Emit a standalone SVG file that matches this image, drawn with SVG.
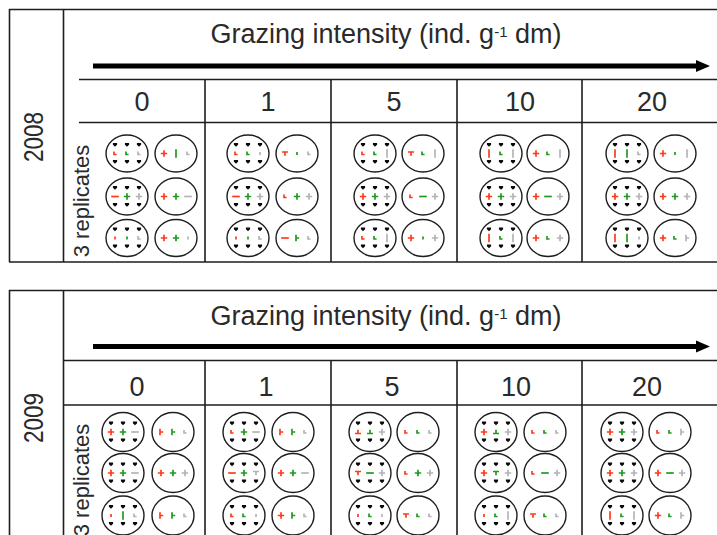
<svg xmlns="http://www.w3.org/2000/svg" xmlns:xlink="http://www.w3.org/1999/xlink" width="717" height="535" viewBox="0 0 717 535">
<style>
.ln{stroke:#1e1e1e;stroke-width:1.6;fill:none}
.tx{font-family:"Liberation Sans",Arial,sans-serif;fill:#2a2a2a}
.mk{fill:none;stroke-width:1.7}
.r{stroke:#ff3a1a}
.g{stroke:#1f9a1f}
.y{stroke:#b4b4b4}
.ring{fill:#fff;stroke:#1e1e1e;stroke-width:1.4}
.dot{fill:#0a0a0a}
</style>
<defs>
<path id="d" d="M-2.1,-1.9h4.2v1.6l-2.1,2.1l-2.1,-2.1z"/>
<g id="gA"><ellipse class="ring" rx="21" ry="18.5"/><g class="dot"><use href="#d" x="-12" y="-8.5"/><use href="#d" y="-8.5"/><use href="#d" x="12" y="-8.5"/><use href="#d" x="-12" y="8.5"/><use href="#d" y="8.5"/><use href="#d" x="12" y="8.5"/></g></g>
<g id="gB"><ellipse class="ring" rx="21" ry="19.5"/><g class="dot"><use href="#d" x="-12" y="-8.5"/><use href="#d" y="-8.5"/><use href="#d" x="12" y="-8.5"/><use href="#d" x="-12" y="8.5"/><use href="#d" y="8.5"/><use href="#d" x="12" y="8.5"/></g></g>
<ellipse id="oA" class="ring" rx="21" ry="18.5"/>
<ellipse id="oB" class="ring" rx="21" ry="19.5"/>
<path id="P" class="mk" d="M-3.2,0H3.2M0,-3.2V3.2"/>
<path id="M" class="mk" d="M-3.8,0H3.8"/>
<path id="V" class="mk" d="M0,-4.2V4.2"/>
<path id="K" class="mk" d="M-1,-2V1H1.6"/>
<path id="S" class="mk" d="M0,-1.4V1.4"/>
<path id="D" class="mk" d="M-3,-1.5H3M0,-1.5V2.2"/>
<path id="U" class="mk" d="M-3,1.5H3M0,1.5V-2.2"/>
<path id="R" class="mk" d="M-1,-3.2V3.2M-1,0H2.2"/>
</defs>
<rect width="717" height="535" fill="#fff"/>

<g id="panel-2008">
<g id="grid-2008" class="ln">
<path d="M9,9.5H717M9.5,9V262M63.5,9V262M9,262H717M79,79.5H717M79,122.5H717M205,79.5V262M331,79.5V262M457,79.5V262M582,79.5V262"/>
</g>
<g id="axis-2008">
<line x1="93" y1="66" x2="698" y2="66" stroke="#000" stroke-width="5"/>
<polygon points="696,60 710,66 696,72" fill="#000"/>
</g>
<text class="tx" x="386" y="43" font-size="27" text-anchor="middle">Grazing intensity (ind. g<tspan font-size="15" dy="-6">-1</tspan><tspan dy="6"> dm)</tspan></text>
<text class="tx" transform="translate(43,137) rotate(-90)" font-size="28" text-anchor="middle" textLength="50" lengthAdjust="spacingAndGlyphs">2008</text>
<text class="tx" transform="translate(89,201) rotate(-90)" font-size="22" text-anchor="middle">3 replicates</text>
<g class="tx" font-size="27" text-anchor="middle">
<text x="142" y="111">0</text><text x="268" y="111">1</text><text x="394" y="111">5</text><text x="520" y="111">10</text><text x="652" y="111">20</text>
</g>
<g id="plots-2008">
<!-- col 0 -->
<g transform="translate(127,153.5)"><use href="#gA"/><use href="#K" x="-12" class="r"/><use href="#K" class="g"/><use href="#K" x="12" class="y"/></g>
<g transform="translate(176,153.5)"><use href="#oA"/><use href="#P" x="-12" class="r"/><use href="#V" class="g"/><use href="#K" x="12" class="y"/></g>
<g transform="translate(127,196.5)"><use href="#gA"/><use href="#M" x="-12" class="r"/><use href="#P" class="g"/><use href="#P" x="12" class="y"/></g>
<g transform="translate(176,196.5)"><use href="#oA"/><use href="#P" x="-12" class="r"/><use href="#P" class="g"/><use href="#M" x="12" class="y"/></g>
<g transform="translate(127,238)"><use href="#gA"/><use href="#S" x="-12" class="r"/><use href="#S" class="g"/><use href="#K" x="12" class="y"/></g>
<g transform="translate(176,238)"><use href="#oA"/><use href="#P" x="-12" class="r"/><use href="#P" class="g"/><use href="#S" x="12" class="y"/></g>
<!-- col 1 -->
<g transform="translate(248,153.5)"><use href="#gA"/><use href="#K" x="-12" class="r"/><use href="#K" class="g"/><use href="#S" x="12" class="y"/></g>
<g transform="translate(297,153.5)"><use href="#oA"/><use href="#D" x="-12" class="r"/><use href="#S" class="g"/><use href="#K" x="12" class="y"/></g>
<g transform="translate(248,196.5)"><use href="#gA"/><use href="#M" x="-12" class="r"/><use href="#P" class="g"/><use href="#P" x="12" class="y"/></g>
<g transform="translate(297,196.5)"><use href="#oA"/><use href="#K" x="-12" class="r"/><use href="#P" class="g"/><use href="#P" x="12" class="y"/></g>
<g transform="translate(248,238)"><use href="#gA"/><use href="#S" x="-12" class="r"/><use href="#S" class="g"/><use href="#K" x="12" class="y"/></g>
<g transform="translate(297,238)"><use href="#oA"/><use href="#M" x="-12" class="r"/><use href="#R" class="g"/><use href="#K" x="12" class="y"/></g>
<!-- col 2 -->
<g transform="translate(375,153.5)"><use href="#gA"/><use href="#K" x="-12" class="r"/><use href="#K" class="g"/><use href="#V" x="12" class="y"/></g>
<g transform="translate(423,153.5)"><use href="#oA"/><use href="#D" x="-12" class="r"/><use href="#K" class="g"/><use href="#V" x="12" class="y"/></g>
<g transform="translate(375,196.5)"><use href="#gA"/><use href="#P" x="-12" class="r"/><use href="#P" class="g"/><use href="#P" x="12" class="y"/></g>
<g transform="translate(423,196.5)"><use href="#oA"/><use href="#K" x="-12" class="r"/><use href="#M" class="g"/><use href="#P" x="12" class="y"/></g>
<g transform="translate(375,238)"><use href="#gA"/><use href="#K" x="-12" class="r"/><use href="#K" class="g"/><use href="#V" x="12" class="y"/></g>
<g transform="translate(423,238)"><use href="#oA"/><use href="#P" x="-12" class="r"/><use href="#S" class="g"/><use href="#P" x="12" class="y"/></g>
<!-- col 3 -->
<g transform="translate(501,153.5)"><use href="#gA"/><use href="#V" x="-12" class="r"/><use href="#K" class="g"/><use href="#V" x="12" class="y"/></g>
<g transform="translate(548,153.5)"><use href="#oA"/><use href="#P" x="-12" class="r"/><use href="#K" class="g"/><use href="#V" x="12" class="y"/></g>
<g transform="translate(501,196.5)"><use href="#gA"/><use href="#P" x="-12" class="r"/><use href="#P" class="g"/><use href="#P" x="12" class="y"/></g>
<g transform="translate(548,196.5)"><use href="#oA"/><use href="#P" x="-12" class="r"/><use href="#M" class="g"/><use href="#P" x="12" class="y"/></g>
<g transform="translate(501,238)"><use href="#gA"/><use href="#V" x="-12" class="r"/><use href="#K" class="g"/><use href="#V" x="12" class="y"/></g>
<g transform="translate(548,238)"><use href="#oA"/><use href="#P" x="-12" class="r"/><use href="#K" class="g"/><use href="#P" x="12" class="y"/></g>
<!-- col 4 -->
<g transform="translate(627,153.5)"><use href="#gA"/><use href="#V" x="-12" class="r"/><use href="#V" class="g"/><use href="#K" x="12" class="y"/></g>
<g transform="translate(675,153.5)"><use href="#oA"/><use href="#P" x="-12" class="r"/><use href="#S" class="g"/><use href="#V" x="12" class="y"/></g>
<g transform="translate(627,196.5)"><use href="#gA"/><use href="#P" x="-12" class="r"/><use href="#P" class="g"/><use href="#P" x="12" class="y"/></g>
<g transform="translate(675,196.5)"><use href="#oA"/><use href="#P" x="-12" class="r"/><use href="#P" class="g"/><use href="#P" x="12" class="y"/></g>
<g transform="translate(627,238)"><use href="#gA"/><use href="#V" x="-12" class="r"/><use href="#V" class="g"/><use href="#S" x="12" class="y"/></g>
<g transform="translate(675,238)"><use href="#oA"/><use href="#P" x="-12" class="r"/><use href="#K" class="g"/><use href="#R" x="12" class="y"/></g>
</g>
</g>

<g id="panel-2009">
<g id="grid-2009" class="ln">
<path d="M9,290.5H717M9.5,290V535M63.5,290V535M63,360.5H717M63,405H717M205,360.5V535M331,360.5V535M457,360.5V535M582,360.5V535"/>
</g>
<g id="axis-2009">
<line x1="93" y1="346.5" x2="698" y2="346.5" stroke="#000" stroke-width="5"/>
<polygon points="696,340.5 710,346.5 696,352.5" fill="#000"/>
</g>
<text class="tx" x="386" y="325" font-size="27" text-anchor="middle">Grazing intensity (ind. g<tspan font-size="15" dy="-6">-1</tspan><tspan dy="6"> dm)</tspan></text>
<text class="tx" transform="translate(43,418) rotate(-90)" font-size="28" text-anchor="middle" textLength="50" lengthAdjust="spacingAndGlyphs">2009</text>
<text class="tx" transform="translate(89,480) rotate(-90)" font-size="22" text-anchor="middle">3 replicates</text>
<g class="tx" font-size="27" text-anchor="middle">
<text x="137" y="396">0</text><text x="266" y="396">1</text><text x="392" y="396">5</text><text x="516" y="396">10</text><text x="647" y="396">20</text>
</g>
<g id="plots-2009">
<!-- col 0 -->
<g transform="translate(123,432)"><use href="#gB"/><use href="#P" x="-12" class="r"/><use href="#P" class="g"/><use href="#M" x="12" class="y"/></g>
<g transform="translate(173,432)"><use href="#oB"/><use href="#R" x="-12" class="r"/><use href="#R" class="g"/><use href="#K" x="12" class="y"/></g>
<g transform="translate(123,473)"><use href="#gB"/><use href="#P" x="-12" class="r"/><use href="#P" class="g"/><use href="#M" x="12" class="y"/></g>
<g transform="translate(173,473)"><use href="#oB"/><use href="#P" x="-12" class="r"/><use href="#P" class="g"/><use href="#P" x="12" class="y"/></g>
<g transform="translate(123,515.5)"><use href="#gB"/><use href="#S" x="-12" class="r"/><use href="#V" class="g"/><use href="#K" x="12" class="y"/></g>
<g transform="translate(173,515.5)"><use href="#oB"/><use href="#R" x="-12" class="r"/><use href="#R" class="g"/><use href="#K" x="12" class="y"/></g>
<!-- col 1 -->
<g transform="translate(244,432)"><use href="#gB"/><use href="#K" x="-12" class="r"/><use href="#P" class="g"/><use href="#M" x="12" class="y"/></g>
<g transform="translate(293,432)"><use href="#oB"/><use href="#R" x="-12" class="r"/><use href="#R" class="g"/><use href="#K" x="12" class="y"/></g>
<g transform="translate(244,473)"><use href="#gB"/><use href="#M" x="-12" class="r"/><use href="#P" class="g"/><use href="#D" x="12" class="y"/></g>
<g transform="translate(293,473)"><use href="#oB"/><use href="#P" x="-12" class="r"/><use href="#P" class="g"/><use href="#M" x="12" class="y"/></g>
<g transform="translate(244,515.5)"><use href="#gB"/><use href="#K" x="-12" class="r"/><use href="#K" class="g"/><use href="#S" x="12" class="y"/></g>
<g transform="translate(293,515.5)"><use href="#oB"/><use href="#P" x="-12" class="r"/><use href="#R" class="g"/><use href="#K" x="12" class="y"/></g>
<!-- col 2 -->
<g transform="translate(370,432)"><use href="#gB"/><use href="#U" x="-12" class="r"/><use href="#U" class="g"/><use href="#P" x="12" class="y"/></g>
<g transform="translate(418,432)"><use href="#oB"/><use href="#K" x="-12" class="r"/><use href="#K" class="g"/><use href="#K" x="12" class="y"/></g>
<g transform="translate(370,473)"><use href="#gB"/><use href="#D" x="-12" class="r"/><use href="#M" class="g"/><use href="#P" x="12" class="y"/></g>
<g transform="translate(418,473)"><use href="#oB"/><use href="#K" x="-12" class="r"/><use href="#P" class="g"/><use href="#P" x="12" class="y"/></g>
<g transform="translate(370,515.5)"><use href="#gB"/><use href="#S" x="-12" class="r"/><use href="#K" class="g"/><use href="#S" x="12" class="y"/></g>
<g transform="translate(418,515.5)"><use href="#oB"/><use href="#D" x="-12" class="r"/><use href="#K" class="g"/><use href="#K" x="12" class="y"/></g>
<!-- col 3 -->
<g transform="translate(496,432)"><use href="#gB"/><use href="#P" x="-12" class="r"/><use href="#U" class="g"/><use href="#P" x="12" class="y"/></g>
<g transform="translate(545,432)"><use href="#oB"/><use href="#K" x="-12" class="r"/><use href="#K" class="g"/><use href="#K" x="12" class="y"/></g>
<g transform="translate(496,473)"><use href="#gB"/><use href="#P" x="-12" class="r"/><use href="#D" class="g"/><use href="#P" x="12" class="y"/></g>
<g transform="translate(545,473)"><use href="#oB"/><use href="#K" x="-12" class="r"/><use href="#M" class="g"/><use href="#P" x="12" class="y"/></g>
<g transform="translate(496,515.5)"><use href="#gB"/><use href="#S" x="-12" class="r"/><use href="#K" class="g"/><use href="#V" x="12" class="y"/></g>
<g transform="translate(545,515.5)"><use href="#oB"/><use href="#D" x="-12" class="r"/><use href="#K" class="g"/><use href="#K" x="12" class="y"/></g>
<!-- col 4 -->
<g transform="translate(622,432)"><use href="#gB"/><use href="#P" x="-12" class="r"/><use href="#P" class="g"/><use href="#P" x="12" class="y"/></g>
<g transform="translate(670,432)"><use href="#oB"/><use href="#K" x="-12" class="r"/><use href="#K" class="g"/><use href="#R" x="12" class="y"/></g>
<g transform="translate(622,473)"><use href="#gB"/><use href="#P" x="-12" class="r"/><use href="#P" class="g"/><use href="#P" x="12" class="y"/></g>
<g transform="translate(670,473)"><use href="#oB"/><use href="#P" x="-12" class="r"/><use href="#M" class="g"/><use href="#P" x="12" class="y"/></g>
<g transform="translate(622,515.5)"><use href="#gB"/><use href="#V" x="-12" class="r"/><use href="#K" class="g"/><use href="#V" x="12" class="y"/></g>
<g transform="translate(670,515.5)"><use href="#oB"/><use href="#P" x="-12" class="r"/><use href="#K" class="g"/><use href="#R" x="12" class="y"/></g>
</g>
</g>
</svg>
